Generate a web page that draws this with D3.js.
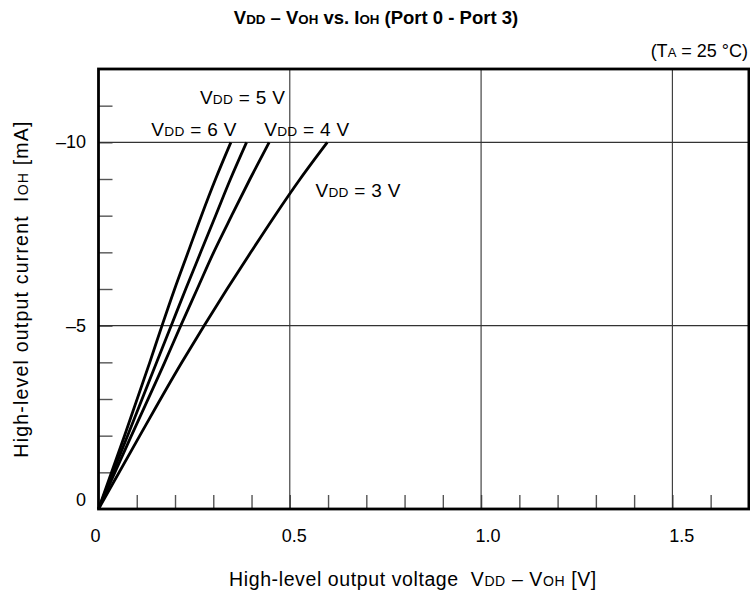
<!DOCTYPE html>
<html>
<head>
<meta charset="utf-8">
<script src="https://cdn.jsdelivr.net/npm/d3@7"></script>
<style>
  html, body { margin: 0; padding: 0; background: #fff; }
  svg { display: block; font-family: "Liberation Sans", Arial, sans-serif; }
</style>
</head>
<body>
<svg id="chart" width="750" height="598"></svg>
<script>
// Output current levels (mA) at which the drop voltage is listed
const currents = [0, -2, -4, -5, -6, -7, -8, -9, -10];

// VDD – VOH (V) for each supply voltage
const drop6V = [0, 0.068, 0.134, 0.166, 0.199, 0.234, 0.269, 0.306, 0.346];
const drop5V = [0, 0.076, 0.152, 0.190, 0.228, 0.267, 0.306, 0.345, 0.387];
const drop4V = [0, 0.086, 0.173, 0.215, 0.258, 0.301, 0.348, 0.396, 0.446];
const drop3V = [0, 0.108, 0.218, 0.276, 0.336, 0.398, 0.461, 0.527, 0.598];

const seriesNames = ["6", "5", "4", "3"];
const seriesDrops = [drop6V, drop5V, drop4V, drop3V];

const xTickLabels = ["0", "0.5", "1.0", "1.5"];
const yTickLabels = ["0", "–5", "–10"];

const NBSP = "\u00A0";
const svg = d3.select("#chart");

const x = d3.scaleLinear().domain([0, 1.7]).range([98.5, 748.9]);
const y = d3.scaleLinear().domain([0, -12]).range([509, 69]);

const plotL = x(0), plotR = x(1.7), plotT = y(-12), plotB = y(0);

// minor ticks (inward) on left and bottom
const xMinor = d3.range(1, 17).map(i => i / 10);
const yMinor = d3.range(1, 12).map(i => -i);

svg.append("g")
  .attr("transform", `translate(0,${plotB})`)
  .call(d3.axisBottom(x).tickValues(xMinor).tickSize(-14).tickFormat(""))
  .call(g => g.select(".domain").remove())
  .call(g => g.selectAll("line").attr("stroke", "#555").attr("stroke-width", 1.4));

svg.append("g")
  .attr("transform", `translate(${plotL},0)`)
  .call(d3.axisLeft(y).tickValues(yMinor).tickSize(-14).tickFormat(""))
  .call(g => g.select(".domain").remove())
  .call(g => g.selectAll("line").attr("stroke", "#555").attr("stroke-width", 1.4));

// grid lines
const xGrid = [0.5, 1.0, 1.5];
const yGrid = [-5, -10];
svg.append("g").selectAll("line").data(xGrid).join("line")
  .attr("x1", d => x(d)).attr("x2", d => x(d))
  .attr("y1", plotT).attr("y2", plotB)
  .attr("stroke", "#333").attr("stroke-width", 1.1);
svg.append("g").selectAll("line").data(yGrid).join("line")
  .attr("x1", plotL).attr("x2", plotR)
  .attr("y1", d => y(d)).attr("y2", d => y(d))
  .attr("stroke", "#333").attr("stroke-width", 1.1);

// curves
const line = d3.line()
  .x(d => x(d[0]))
  .y(d => y(d[1]))
  .curve(d3.curveMonotoneY);

svg.append("g").selectAll("path").data(seriesDrops).join("path")
  .attr("d", drops => line(drops.map((v, i) => [v, currents[i]])))
  .attr("fill", "none")
  .attr("stroke", "#000")
  .attr("stroke-width", 2.8)
  .attr("stroke-linecap", "butt");

// plot frame
svg.append("rect")
  .attr("x", plotL).attr("y", plotT)
  .attr("width", plotR - plotL).attr("height", plotB - plotT)
  .attr("fill", "none").attr("stroke", "#000").attr("stroke-width", 2.8);

// helper for "V<sub>DD</sub>"-style text with small-capital subscripts
function richText(t, parts, size) {
  parts.forEach(p => {
    t.append("tspan")
      .attr("font-size", p.sub ? size * 0.72 : size)
      .text(p.t);
  });
  return t;
}

// curve labels (anchored in data units)
const curveLabels = [
  { name: "5", v: 0.265, i: -11.04 },
  { name: "6", v: 0.138, i: -10.17 },
  { name: "4", v: 0.433, i: -10.17 },
  { name: "3", v: 0.567, i: -8.52 }
];
curveLabels.forEach(l => {
  const t = svg.append("text")
    .attr("x", x(l.v)).attr("y", y(l.i))
    .attr("letter-spacing", 0.3)
    .attr("fill", "#000");
  richText(t, [{ t: "V" }, { t: "DD", sub: true }, { t: " = " + l.name + " V" }], 19);
});

// tick labels
const xTickVals = [0, 0.5, 1.0, 1.5];
svg.append("g").selectAll("text").data(xTickVals).join("text")
  .attr("x", d => x(d) + (d === 0 ? -3 : 2 + 5 * d))
  .attr("y", 542)
  .attr("text-anchor", "middle")
  .attr("font-size", 18)
  .text((d, i) => xTickLabels[i]);

const yTickVals = [0, -5, -10];
svg.append("g").selectAll("text").data(yTickVals).join("text")
  .attr("x", 86)
  .attr("y", d => y(d) + (d === 0 ? -3 : 6))
  .attr("text-anchor", "end")
  .attr("font-size", 18)
  .text((d, i) => yTickLabels[i]);

// axis titles
const xTitle = svg.append("text")
  .attr("x", 413).attr("y", 586)
  .attr("letter-spacing", 0.6)
  .attr("text-anchor", "middle");
richText(xTitle, [
  { t: "High-level output voltage" + NBSP + NBSP + "V" }, { t: "DD", sub: true },
  { t: " – V" }, { t: "OH", sub: true }, { t: " [V]" }
], 19.5);

const yTitle = svg.append("text")
  .attr("transform", `translate(28,${(plotT + plotB) / 2}) rotate(-90)`)
  .attr("letter-spacing", 1.2)
  .attr("text-anchor", "middle");
richText(yTitle, [
  { t: "High-level output current" + NBSP + NBSP + "I" }, { t: "OH", sub: true }, { t: " [mA]" }
], 19.5);

// chart title
const title = svg.append("text")
  .attr("x", 376).attr("y", 24)
  .attr("text-anchor", "middle")
  .attr("font-weight", "bold");
richText(title, [
  { t: "V" }, { t: "DD", sub: true }, { t: " – V" }, { t: "OH", sub: true },
  { t: " vs. I" }, { t: "OH", sub: true }, { t: " (Port 0 - Port 3)" }
], 18.5);

// ambient temperature note
const note = svg.append("text")
  .attr("x", 748).attr("y", 57)
  .attr("text-anchor", "end");
richText(note, [
  { t: "(T" }, { t: "A", sub: true }, { t: " = 25 °C)" }
], 18);
</script>
</body>
</html>
